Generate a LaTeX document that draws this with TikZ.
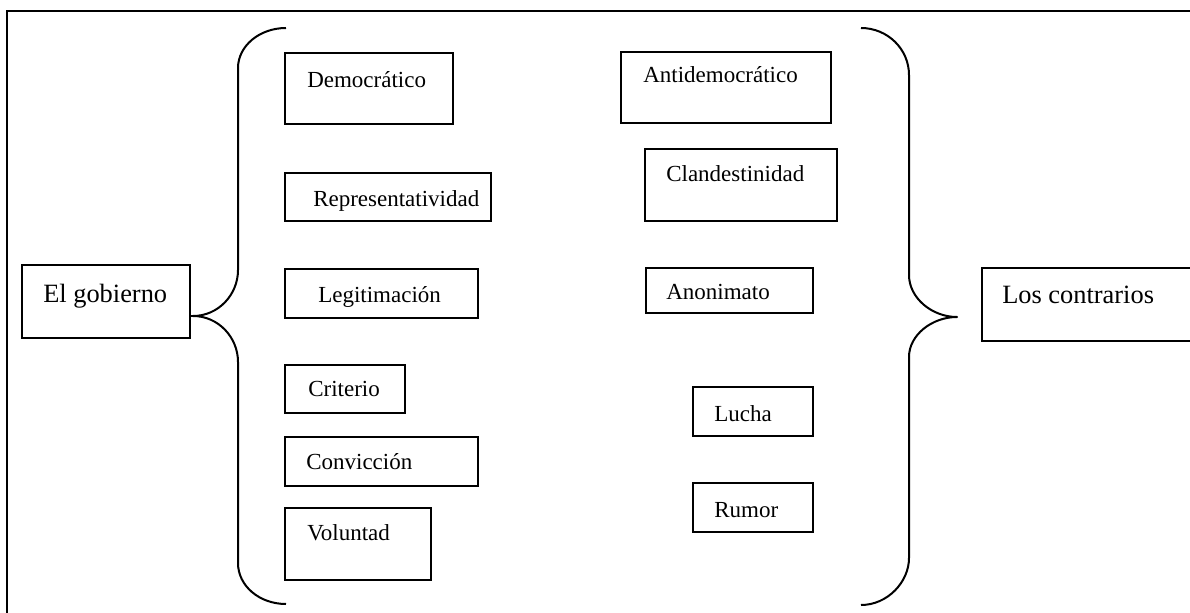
\documentclass[tikz,border=0pt]{standalone}
\usepackage{fontspec}
\setmainfont{Liberation Serif}
\usetikzlibrary{fit}

% box with its text set from a given base point
% #1 name, #2-#5 corners (x1,y1,x2,y2), #6-#7 text base point, #8 text, #9 text style
\newcommand\labelbox[9]{%
  \node[itembox, fit={(#2,#3) (#4,#5)}] (#1) {};
  \node[#9] (#1-t) at (#6,#7) {#8};
}

\begin{document}
\begin{tikzpicture}[x=0.75pt,y=-0.75pt,
  itembox/.style={draw, line width=1.3pt, inner sep=0pt, outer sep=0pt},
  itemtext/.style={anchor=base west, inner sep=0pt, font=\fontsize{17.25}{20}\selectfont},
  headtext/.style={anchor=base west, inner sep=0pt, font=\fontsize{19.8}{23}\selectfont},
  brace/.style={line width=1.5pt, line join=round}]
\useasboundingbox (0,0) rectangle (1190,613);
\clip (0,0) rectangle (1190,613);

% outer frame (runs off the right and bottom edges)
\draw[line width=1.5pt] (7,11) rectangle (1210,640);

% heads
\labelbox{gob}{22}{265}{190}{338}{43}{302}{El gobierno}{headtext}
\labelbox{con}{982}{268}{1220}{341}{1002}{304}{Los contrarios}{headtext}

% left column
\labelbox{demo}{285}{53}{453}{124}{307}{88}{Democrático}{itemtext}
\labelbox{repr}{285}{173}{491}{221}{313}{207}{Representatividad}{itemtext}
\labelbox{legi}{285}{269}{478}{318}{318}{303}{Legitimación}{itemtext}
\labelbox{crit}{285}{365}{405}{413}{308}{397}{Criterio}{itemtext}
\labelbox{conv}{285}{437}{478}{486}{306}{469}{Convicción}{itemtext}
\labelbox{volu}{285}{508}{431}{580}{307}{540}{Voluntad}{itemtext}

% right column
\labelbox{anti}{621}{52}{831}{123}{643}{83}{Antidemocrático}{itemtext}
\labelbox{clan}{645}{149}{837}{221}{666}{182}{Clandestinidad}{itemtext}
\labelbox{anon}{646}{268}{813}{313}{666}{300}{Anonimato}{itemtext}
\labelbox{luch}{693}{387}{813}{436}{714}{421}{Lucha}{itemtext}
\labelbox{rumo}{693}{483}{813}{532}{714}{517}{Rumor}{itemtext}

% left brace, tip touching "El gobierno"
\coordinate (ltip) at (193,316);
\draw[brace] (286,28) .. controls (259.5,28) and (238,46) .. (238,68)
  -- (238,270) .. controls (238,295) and (218,316) .. (ltip)
  .. controls (218,316) and (238,337) .. (238,362)
  -- (238,563) .. controls (238,586) and (259.5,604) .. (286,604);
\draw[line width=1.3pt] (gob.east |- ltip) -- (ltip);

% right brace, tip pointing at "Los contrarios"
\coordinate (rtip) at (957,317);
\draw[brace] (861,28) .. controls (887.5,28) and (909,49) .. (909,75)
  -- (909,275) .. controls (909,298) and (932,317) .. (rtip)
  .. controls (932,317) and (909,335) .. (909,357)
  -- (909,558) .. controls (909,582) and (887.5,605) .. (861,605);
\end{tikzpicture}
\end{document}
